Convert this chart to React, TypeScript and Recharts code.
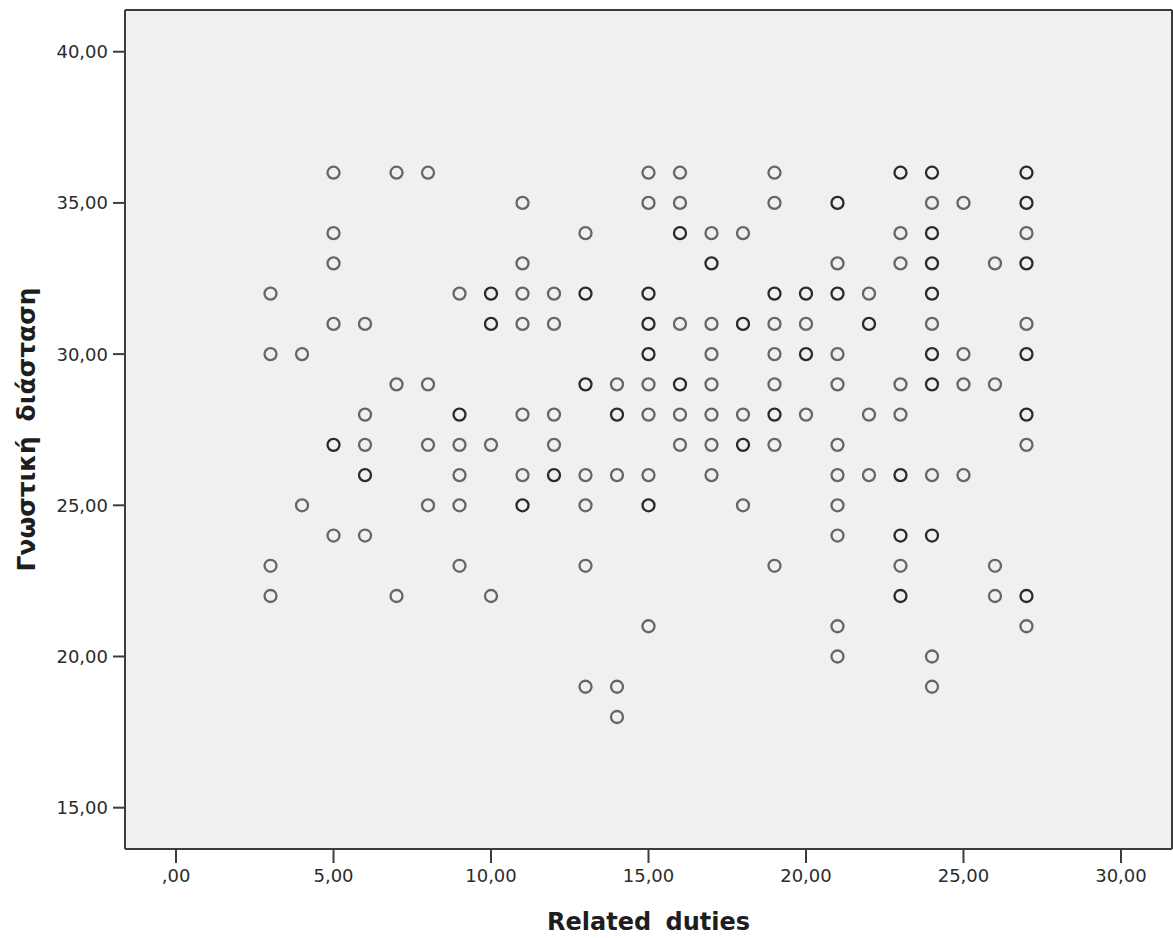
import { ScatterChart, Scatter, XAxis, YAxis, CartesianGrid, Label } from "recharts";

// Related duties (x) values that have cases
const relatedDuties = [3, 4, 5, 6, 7, 8, 9, 10, 11, 12, 13, 14, 15, 16, 17, 18, 19, 20, 21, 22, 23, 24, 25, 26, 27];

// Γνωστική διάσταση values with a single case, one list per x value above
const singleCases = [
  [32, 30, 23, 22],
  [30, 25],
  [36, 34, 33, 31, 24],
  [31, 28, 27, 24],
  [36, 29, 22],
  [36, 29, 27, 25],
  [32, 27, 26, 25, 23],
  [27, 22],
  [35, 33, 32, 31, 28, 26],
  [32, 31, 28, 27],
  [34, 26, 25, 23, 19],
  [29, 26, 19, 18],
  [36, 35, 29, 28, 26, 21],
  [36, 35, 31, 28, 27],
  [34, 31, 30, 29, 28, 27, 26],
  [34, 28, 25],
  [36, 35, 31, 30, 29, 27, 23],
  [31, 28],
  [33, 30, 29, 27, 26, 25, 24, 21, 20],
  [32, 28, 26],
  [34, 33, 29, 28, 23],
  [35, 31, 26, 20, 19],
  [35, 30, 29, 26],
  [33, 29, 23, 22],
  [34, 31, 27, 21],
];

// values where several cases overlap (drawn darker)
const repeatedCases = [
  [],
  [],
  [27],
  [26],
  [],
  [],
  [28],
  [32, 31],
  [25],
  [26],
  [32, 29],
  [28],
  [32, 31, 30, 25],
  [34, 29],
  [33],
  [31, 27],
  [32, 28],
  [32, 30],
  [35, 32],
  [31],
  [36, 26, 24, 22],
  [36, 34, 33, 32, 30, 29, 24],
  [],
  [],
  [36, 35, 33, 30, 28, 22],
];

const xTicks = [0, 5, 10, 15, 20, 25, 30];
const yTicks = [15, 20, 25, 30, 35, 40];

const points = relatedDuties.flatMap((x, i) => [
  ...singleCases[i].map((y) => ({ x, y, n: 1 })),
  ...repeatedCases[i].map((y) => ({ x, y, n: 2 })),
]);

const fmt = (v: number) => (v === 0 ? ",00" : v.toFixed(2).replace(".", ","));

const FONT = "DejaVu Sans";
const AXIS = "#3c3c3c";

const Ring = (props: any) => {
  const { cx, cy, payload } = props;
  if (cx == null || cy == null) return null;
  return (
    <circle
      cx={cx}
      cy={cy}
      r={6}
      fill="none"
      stroke={payload.n > 1 ? "#2a2a2a" : "#666"}
      strokeWidth={2.3}
    />
  );
};

const XTitle = (props: any) => {
  const { x, y, width } = props.viewBox;
  return (
    <text
      x={x + width / 2}
      y={y + 81}
      textAnchor="middle"
      fontFamily={FONT}
      fontWeight="bold"
      fontSize={24}
      fill="#1e1e1e"
      style={{ wordSpacing: 6 }}
    >
      Related duties
    </text>
  );
};

const YTitle = (props: any) => {
  const { x, y, height } = props.viewBox;
  const cx = x + 35;
  const cy = y + height / 2;
  return (
    <text
      x={cx}
      y={cy}
      transform={`rotate(-90, ${cx}, ${cy})`}
      textAnchor="middle"
      fontFamily={FONT}
      fontWeight="bold"
      fontSize={25}
      fill="#1e1e1e"
      style={{ wordSpacing: 6 }}
    >
      Γνωστική διάσταση
    </text>
  );
};

export default function App() {
  const tick = { fill: "#2c2c2c", fontSize: 18, fontFamily: FONT };
  return (
    <div style={{ position: "absolute", left: 0, top: 0, background: "#fff" }}>
      <ScatterChart width={1173} height={938} margin={{ top: 10, right: 1, bottom: 0, left: 0 }}>
        <CartesianGrid
          fill="#f0f0f0"
          stroke={AXIS}
          strokeWidth={2}
          strokeDasharray="0"
          horizontalCoordinatesGenerator={({ offset }: any) => [offset.top, offset.top + offset.height]}
          verticalCoordinatesGenerator={({ offset }: any) => [offset.left, offset.left + offset.width]}
        />
        <XAxis
          type="number"
          dataKey="x"
          domain={[-1.62, 31.62]}
          ticks={xTicks}
          tickFormatter={fmt}
          allowDataOverflow
          height={89}
          tick={tick}
          tickSize={14}
          tickMargin={6}
          stroke={AXIS}
          strokeWidth={2}
        >
          <Label content={XTitle} />
        </XAxis>
        <YAxis
          type="number"
          dataKey="y"
          domain={[13.634, 41.38]}
          ticks={yTicks}
          tickFormatter={fmt}
          allowDataOverflow
          width={125}
          tick={tick}
          tickSize={12}
          tickMargin={5}
          stroke={AXIS}
          strokeWidth={2}
        >
          <Label content={YTitle} />
        </YAxis>
        <Scatter data={points} shape={Ring} isAnimationActive={false} />
      </ScatterChart>
    </div>
  );
}
